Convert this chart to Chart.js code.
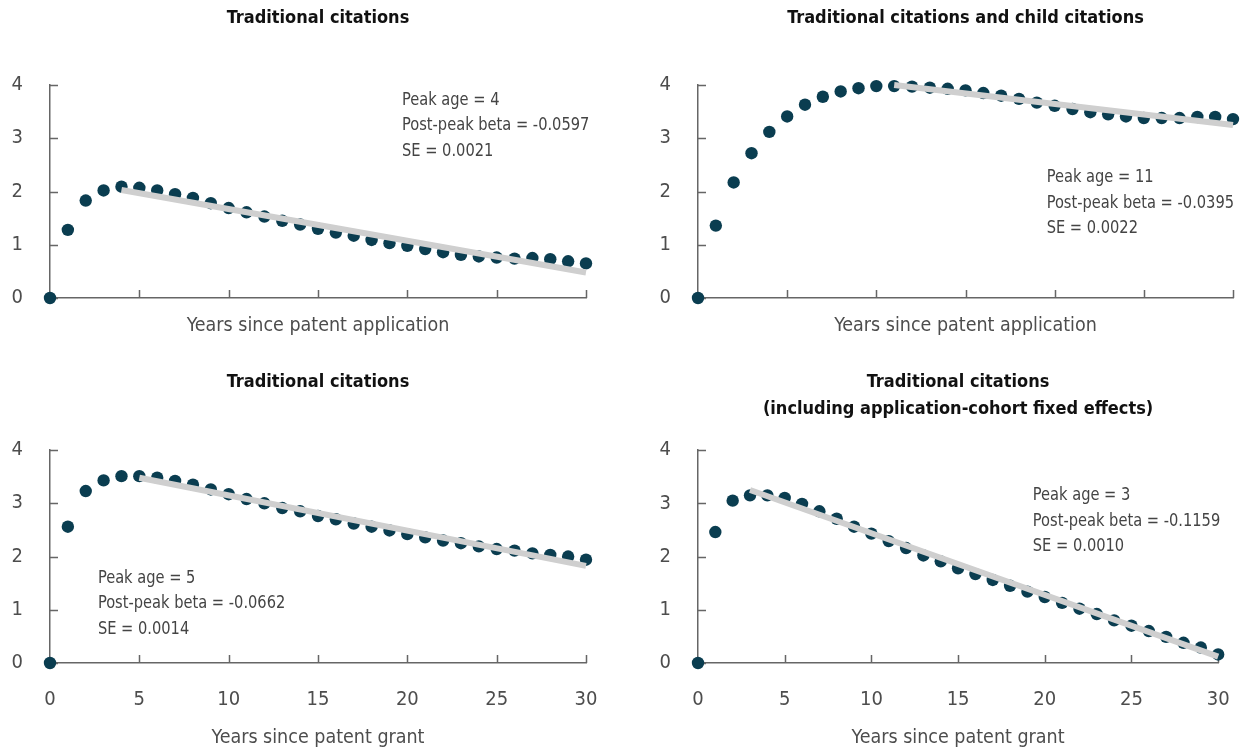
<!DOCTYPE html>
<html>
<head>
<meta charset="utf-8">
<title>Citation age profiles</title>
<script src="https://cdn.jsdelivr.net/npm/chart.js@4/dist/chart.umd.min.js"></script>
<style>
  html, body { margin: 0; padding: 0; background: #ffffff; }
  #wrap { position: relative; width: 1254px; height: 752px; overflow: hidden; }
  canvas { position: absolute; display: block; }
</style>
</head>
<body>
<div id="wrap">
  <canvas id="c1" width="627" height="350" style="left:0;top:0"></canvas>
  <canvas id="c2" width="627" height="350" style="left:627px;top:0"></canvas>
  <canvas id="c3" width="627" height="402" style="left:0;top:350px"></canvas>
  <canvas id="c4" width="627" height="402" style="left:627px;top:350px"></canvas>
</div>
<script>
// Years since application / grant
const years = [0, 1, 2, 3, 4, 5, 6, 7, 8, 9, 10, 11, 12, 13, 14, 15,
               16, 17, 18, 19, 20, 21, 22, 23, 24, 25, 26, 27, 28, 29, 30];

// Citations by age, traditional, since application
const appTraditional = [0.00, 1.28, 1.83, 2.02, 2.09, 2.07, 2.02, 1.95, 1.88, 1.78, 1.69,
                        1.61, 1.53, 1.45, 1.38, 1.30, 1.23, 1.17, 1.09, 1.03, 0.98,
                        0.92, 0.86, 0.81, 0.78, 0.76, 0.74, 0.75, 0.73, 0.69, 0.65];
// Traditional + child citations, since application
const appWithChild = [0.00, 1.36, 2.17, 2.72, 3.12, 3.41, 3.63, 3.78, 3.88, 3.94, 3.98,
                      3.98, 3.97, 3.95, 3.93, 3.90, 3.85, 3.80, 3.74, 3.67, 3.61,
                      3.55, 3.49, 3.45, 3.41, 3.38, 3.38, 3.38, 3.40, 3.40, 3.36];
// Traditional citations, since grant
const grantTraditional = [0.00, 2.56, 3.23, 3.43, 3.51, 3.51, 3.48, 3.42, 3.35, 3.26, 3.17,
                          3.08, 3.00, 2.91, 2.85, 2.76, 2.70, 2.62, 2.56, 2.49, 2.42,
                          2.36, 2.30, 2.25, 2.19, 2.14, 2.11, 2.06, 2.03, 2.00, 1.94];
// Traditional citations, since grant, with application-cohort fixed effects
const grantCohortFE = [0.00, 2.46, 3.05, 3.15, 3.15, 3.10, 2.99, 2.85, 2.71, 2.56, 2.43,
                       2.29, 2.16, 2.02, 1.91, 1.78, 1.67, 1.56, 1.45, 1.34, 1.24,
                       1.13, 1.02, 0.92, 0.80, 0.70, 0.60, 0.49, 0.38, 0.29, 0.16];

// Post-peak linear fits: peak age, slope, standard error, fitted value at the peak
const peakAges   = [4, 11, 5, 3];
const peakBetas  = [-0.0597, -0.0395, -0.0662, -0.1159];
const peakSEs    = ['0.0021', '0.0022', '0.0014', '0.0010'];
const fitAtPeak  = [2.03, 4.00, 3.48, 3.25];

const xTicks = [0, 5, 10, 15, 20, 25, 30];
const yTicks = [0, 1, 2, 3, 4];

const panelTitles = [
  'Traditional citations',
  'Traditional citations and child citations',
  'Traditional citations',
  ['Traditional citations', '(including application-cohort fixed effects)']
];
const axisTitles = ['Years since patent application', 'Years since patent application',
                    'Years since patent grant', 'Years since patent grant'];
const seriesList = [appTraditional, appWithChild, grantTraditional, grantCohortFE];

// where each stats block sits, in data units (left edge, first line centre)
const noteAnchors = [{x: 19.7, y: 3.72}, {x: 19.55, y: 2.26}, {x: 2.68, y: 1.595}, {x: 19.31, y: 3.15}];

const FONT = "'Liberation Sans Narrow', 'DejaVu Sans Condensed', Roboto, sans-serif";
const AXIS_COLOR = '#666666';
const TEXT_COLOR = '#4d4d4d';
const DOT_COLOR = '#0a3d50';
const FIT_COLOR = '#cfcfcf';

// tick marks pointing into the plot area
const innerTicks = {
  id: 'innerTicks',
  beforeDatasetsDraw(chart) {
    const {ctx, scales: {x, y}} = chart;
    ctx.save();
    ctx.strokeStyle = AXIS_COLOR;
    ctx.lineWidth = 1.5;
    ctx.beginPath();
    xTicks.forEach(v => {
      if (v === 0) return;
      const px = Math.round(x.getPixelForValue(v)) + 0.5;
      ctx.moveTo(px, y.bottom);
      ctx.lineTo(px, y.bottom - 8);
    });
    yTicks.forEach(v => {
      const py = Math.round(y.getPixelForValue(v)) + 0.5;
      ctx.moveTo(x.left, py);
      ctx.lineTo(x.left + 8, py);
    });
    ctx.stroke();
    ctx.restore();
  }
};

// peak-age / slope / SE text block, set in a slightly narrowed face
const statsNote = {
  id: 'statsNote',
  afterDatasetsDraw(chart, args, opts) {
    const {ctx, scales: {x, y}} = chart;
    const px = x.getPixelForValue(opts.anchor.x);
    const py = y.getPixelForValue(opts.anchor.y);
    const squeeze = 0.88;
    ctx.save();
    ctx.translate(px, py);
    ctx.scale(squeeze, 1);
    ctx.fillStyle = '#444444';
    ctx.font = '18.5px ' + FONT;
    ctx.textAlign = 'left';
    ctx.textBaseline = 'middle';
    opts.lines.forEach((t, i) => ctx.fillText(t, 0, i * 25.5));
    ctx.restore();
  }
};

function makePanel(id, i) {
  const isRight = i % 2 === 1;
  const isBottom = i >= 2;
  const twoLine = Array.isArray(panelTitles[i]);
  const vals = seriesList[i];
  const peak = peakAges[i];
  const beta = peakBetas[i];
  const fitStart = fitAtPeak[i];
  const fitEnd = fitStart + beta * (30 - peak);

  new Chart(document.getElementById(id), {
    type: 'scatter',
    data: {
      datasets: [
        {
          type: 'line',
          data: [{x: peak, y: fitStart}, {x: 30, y: fitEnd}],
          borderColor: FIT_COLOR,
          borderWidth: 6,
          borderCapStyle: 'butt',
          pointRadius: 0,
          fill: false,
          clip: false
        },
        {
          data: years.map((yr, k) => ({x: yr, y: vals[k]})),
          backgroundColor: DOT_COLOR,
          borderColor: DOT_COLOR,
          borderWidth: 0,
          pointRadius: 6.2,
          clip: false
        }
      ]
    },
    options: {
      responsive: false,
      animation: false,
      events: [],
      layout: { padding: { left: 0, right: isRight ? 21 : 41, top: 0, bottom: 0 } },
      plugins: {
        legend: { display: false },
        tooltip: { enabled: false },
        title: {
          display: true,
          text: panelTitles[i],
          fullSize: false,
          color: '#111111',
          font: { family: FONT, size: 18, weight: 'bold', lineHeight: 1.53 },
          padding: isBottom
            ? { top: 18.25, bottom: twoLine ? 26.75 : 54.25 }
            : { top: 4.25, bottom: 53.25 }
        },
        statsNote: {
          anchor: noteAnchors[i],
          lines: ['Peak age = ' + peak,
                  'Post-peak beta = ' + beta.toFixed(4),
                  'SE = ' + peakSEs[i]]
        }
      },
      scales: {
        x: {
          type: 'linear',
          min: 0, max: 30,
          afterBuildTicks: s => { s.ticks = xTicks.map(v => ({value: v})); },
          afterFit: s => { s.height = isBottom ? 89 : 52; },
          grid: { display: false, drawTicks: false },
          border: { display: true, color: AXIS_COLOR, width: 1.5 },
          ticks: {
            display: isBottom,
            maxRotation: 0,
            autoSkip: false,
            color: TEXT_COLOR,
            padding: 24.4,
            font: { family: FONT, size: 20, lineHeight: 1.26 }
          },
          title: {
            display: true,
            text: axisTitles[i],
            color: TEXT_COLOR,
            font: { family: FONT, size: 19.5, lineHeight: 1.3 },
            padding: { top: 0, bottom: isBottom ? 1.4 : 11.4 }
          }
        },
        y: {
          type: 'linear',
          min: 0, max: 4,
          afterBuildTicks: s => { s.ticks = yTicks.map(v => ({value: v})); },
          afterFit: s => { s.width = isRight ? 71 : 50; },
          grid: { display: false, drawTicks: false },
          border: { display: true, color: AXIS_COLOR, width: 1.5 },
          ticks: {
            color: TEXT_COLOR,
            padding: 27,
            font: { family: FONT, size: 20, lineHeight: 1.2 }
          }
        }
      }
    },
    plugins: [innerTicks, statsNote]
  });
}

['c1', 'c2', 'c3', 'c4'].forEach(makePanel);
</script>
</body>
</html>
